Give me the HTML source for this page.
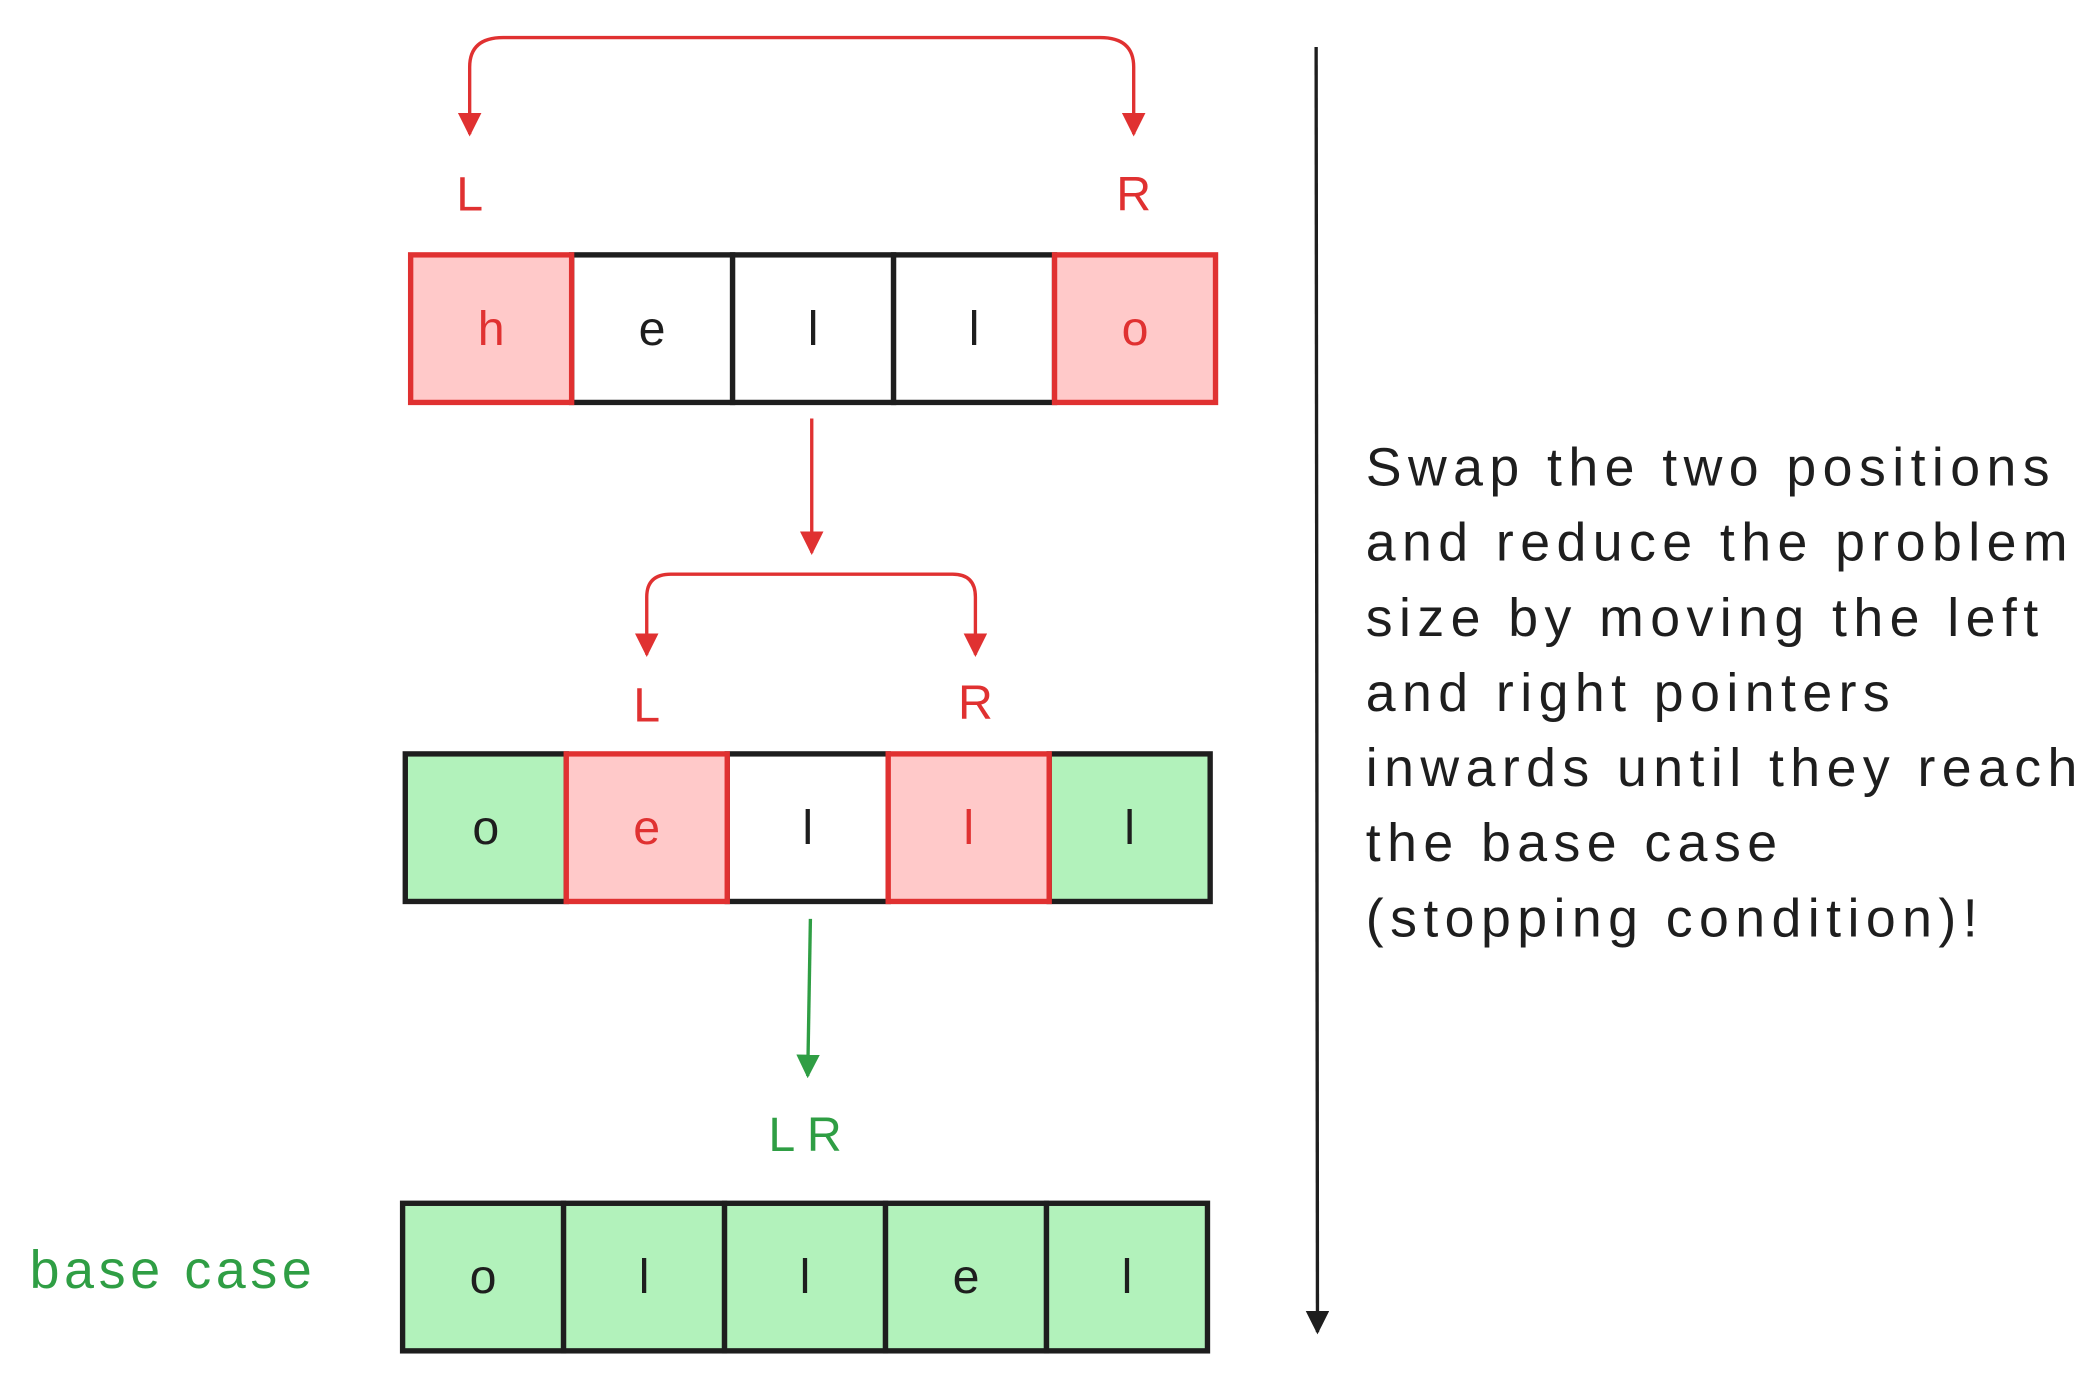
<!DOCTYPE html>
<html><head><meta charset="utf-8"><style>
html,body{margin:0;padding:0;background:#fff;}
svg{display:block;}
text{font-family:"Liberation Sans",sans-serif;}
</style></head><body>
<svg id="s" width="2093" height="1375" viewBox="0 0 1560 1025">
<defs>
<marker id="ar" viewBox="0 0 10 10" refX="9" refY="5" markerWidth="7" markerHeight="7" orient="auto-start-reverse"><path d="M0,0 L10,5 L0,10 z" fill="#e03131"/></marker>
<marker id="ag" viewBox="0 0 10 10" refX="9" refY="5" markerWidth="7" markerHeight="7" orient="auto"><path d="M0,0 L10,5 L0,10 z" fill="#2f9e44"/></marker>
<marker id="ak" viewBox="0 0 10 10" refX="9" refY="5" markerWidth="7" markerHeight="7" orient="auto"><path d="M0,0 L10,5 L0,10 z" fill="#1e1e1e"/></marker>
</defs>
<path d="M350,100 L350,50 Q350,28 375,28 L820,28 Q845,28 845,50 L845,100" fill="none" stroke="#e03131" stroke-width="2.5" marker-start="url(#ar)" marker-end="url(#ar)"/>
<text x="350" y="157" fill="#e03131" font-size="36" text-anchor="middle">L</text>
<text x="845" y="157" fill="#e03131" font-size="36" text-anchor="middle">R</text>
<line x1="605" y1="312" x2="605" y2="412" stroke="#e03131" stroke-width="2.5" marker-end="url(#ar)"/>
<path d="M482,488 L482,445 Q482,428 500,428 L710,428 Q727,428 727,445 L727,488" fill="none" stroke="#e03131" stroke-width="2.5" marker-start="url(#ar)" marker-end="url(#ar)"/>
<text x="482" y="538" fill="#e03131" font-size="36" text-anchor="middle">L</text>
<text x="727" y="536" fill="#e03131" font-size="36" text-anchor="middle">R</text>
<line x1="604" y1="685" x2="602" y2="802" stroke="#2f9e44" stroke-width="2.5" marker-end="url(#ag)"/>
<text x="600" y="858" fill="#2f9e44" font-size="36" text-anchor="middle">L R</text>
<text x="22" y="960" fill="#2f9e44" font-size="40" letter-spacing="3.5">base case</text>
<line x1="981" y1="35" x2="982" y2="993" stroke="#1e1e1e" stroke-width="2.5" marker-end="url(#ak)"/>
<g id="rows"></g>
<text font-size="40" letter-spacing="4.8" fill="#1e1e1e">
<tspan x="1018" y="362">Swap the two positions</tspan>
<tspan x="1018" y="418">and reduce the problem</tspan>
<tspan x="1018" y="474">size by moving the left</tspan>
<tspan x="1018" y="530">and right pointers</tspan>
<tspan x="1018" y="586">inwards until they reach</tspan>
<tspan x="1018" y="642">the base case</tspan>
<tspan x="1018" y="698">(stopping condition)!</tspan>
</text>
</svg>
<script>
const row1Letters=["h","e","l","l","o"];
const row1States=["swap","none","none","none","swap"];
const row2Letters=["o","e","l","l","l"];
const row2States=["done","swap","none","swap","done"];
const row3Letters=["o","l","l","e","l"];
const row3States=["done","done","done","done","done"];
const rows=[[row1Letters,row1States,306,190],[row2Letters,row2States,302,562],[row3Letters,row3States,300,897]];
const fills={swap:"#ffc9c9",none:"#ffffff",done:"#b2f2bb"};
const strokes={swap:"#e03131",none:"#1e1e1e",done:"#1e1e1e"};
const txt={swap:"#e03131",none:"#1e1e1e",done:"#1e1e1e"};
const g=document.getElementById('rows');
const NS="http://www.w3.org/2000/svg";
const cw=120,ch=110;
rows.forEach((r,ri)=>{
  const [letters,states,x0,y0]=r;
  const order=letters.map((_,i)=>i).sort((a,b)=>(states[a]==="swap")-(states[b]==="swap"));
  order.forEach(i=>{
    const rect=document.createElementNS(NS,'rect');
    
    
    rect.setAttribute('x',x0+i*cw);rect.setAttribute('y',y0);
    rect.setAttribute('width',cw);rect.setAttribute('height',ch);
    rect.setAttribute('fill',fills[states[i]]);rect.setAttribute('stroke',strokes[states[i]]);
    rect.setAttribute('stroke-width','4');
    g.appendChild(rect);
  });
  letters.forEach((l,i)=>{
    const t=document.createElementNS(NS,'text');
    
    
    t.setAttribute('x',x0+i*cw+cw/2);t.setAttribute('y',y0+ch/2+12);
    t.setAttribute('text-anchor','middle');t.setAttribute('font-size','36');
    t.setAttribute('fill',txt[states[i]]);
    t.textContent=l;
    g.appendChild(t);
  });
});
</script>
</body></html>
